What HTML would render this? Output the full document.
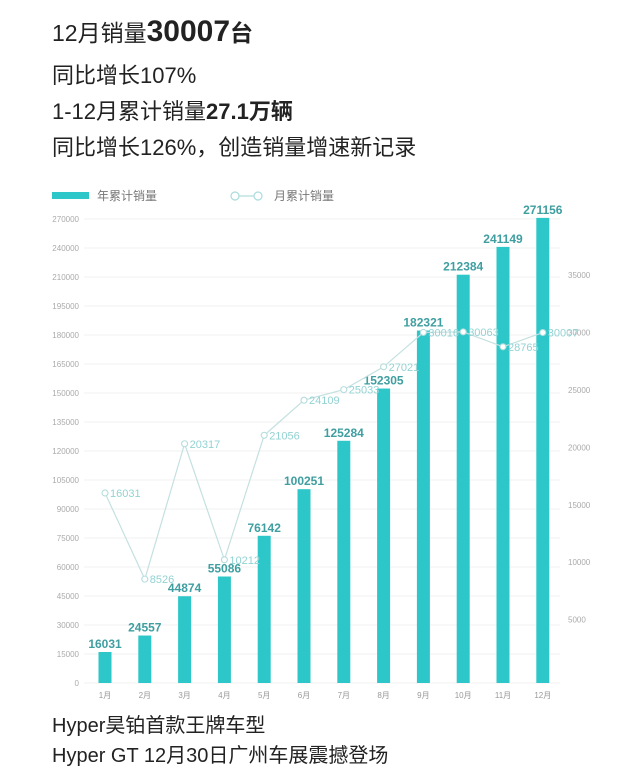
<!DOCTYPE html>
<html><head><meta charset="utf-8">
<style>
body{margin:0;width:640px;height:779px;background:#fff;font-family:"Liberation Sans","Noto Sans CJK SC",sans-serif;overflow:hidden;position:relative}
.t{position:absolute;left:52px;color:#222;white-space:nowrap}
</style></head><body>
<div class="t" style="top:14px;font-size:23px">12月销量<b style="font-size:30px">30007</b><b>台</b></div>
<div class="t" style="top:58px;font-size:22px">同比增长107%</div>
<div class="t" style="top:94px;font-size:22px">1-12月累计销量<b>27.1万辆</b></div>
<div class="t" style="top:130px;font-size:22px">同比增长126%，创造销量增速新记录</div>
<div class="t" style="top:709px;font-size:20px">Hyper昊铂首款王牌车型</div>
<div class="t" style="top:739px;font-size:20px">Hyper GT 12月30日广州车展震撼登场</div>
<svg id="c" width="640" height="779" style="position:absolute;left:0;top:0"></svg>
<script>
const months=["1月","2月","3月","4月","5月","6月","7月","8月","9月","10月","11月","12月"];
const cumulative=[16031,24557,44874,55086,76142,100251,125284,152305,182321,212384,241149,271156];
const monthly=[16031,8526,20317,10212,21056,24109,25033,27021,30016,30063,28765,30007];
const leftTicks=[0,15000,30000,45000,60000,75000,90000,105000,120000,135000,150000,165000,180000,195000,210000,240000,270000];
const rightTicks=[5000,10000,15000,20000,25000,30000,35000];
const svg=document.getElementById('c');const NS="http://www.w3.org/2000/svg";
function el(t,a,txt){const e=document.createElementNS(NS,t);for(const k in a)e.setAttribute(k,a[k]);if(txt!==undefined)e.textContent=txt;svg.appendChild(e);return e;}
// left axis: ticks evenly spaced by index (as in the source chart); values interpolated between ticks
const tickY=i=>683-i*29;
function yL(v){for(let i=0;i<leftTicks.length-1;i++){const a=leftTicks[i],b=leftTicks[i+1];if(v<=b||i===leftTicks.length-2){return tickY(i)-(v-a)/(b-a)*29;}}return tickY(0);}
const yR=v=>677-v*(57.4/5000);
const xC=i=>105+i*39.8;
// legend
let e=el('rect',{x:52,y:192,width:37,height:7,fill:'#2ec7c9'});

e=el('text',{x:97,y:200,'font-size':12,fill:'#777'},'年累计销量');

e=el('line',{x1:235,y1:196,x2:258,y2:196,stroke:'#b5dcdc','stroke-width':1.2});

[235,258].forEach(x=>{const c=el('circle',{cx:x,cy:196,r:4,fill:'#fff',stroke:'#a9dcdc','stroke-width':1.2});});
e=el('text',{x:274,y:200,'font-size':12,fill:'#777'},'月累计销量');

// left ticks + grid
leftTicks.forEach((v,i)=>{const g=el('line',{x1:84,y1:tickY(i),x2:560,y2:tickY(i),stroke:'#f0f0f0','stroke-width':1});

const t=el('text',{x:79,y:tickY(i)+3,'font-size':8,fill:'#aaa','text-anchor':'end'},v);
});
rightTicks.forEach(v=>{const t=el('text',{x:568,y:yR(v)+3,'font-size':8,fill:'#aaa'},v);
});
// bars
cumulative.forEach((v,i)=>{const b=el('rect',{x:xC(i)-6.5,y:yL(v),width:13,height:683-yL(v),fill:'#2ec7c9'});

const t=el('text',{x:xC(i),y:yL(v)-4,'font-size':12,fill:'#3f9ea0','text-anchor':'middle','font-weight':'bold'},v);

const m=el('text',{x:xC(i),y:698,'font-size':8,fill:'#999','text-anchor':'middle'},months[i]);
});
// line
const pl=el('polyline',{points:monthly.map((v,i)=>xC(i)+','+yR(v)).join(' '),fill:'none',stroke:'#c4e0e0','stroke-width':1.2});

monthly.forEach((v,i)=>{const c=el('circle',{cx:xC(i),cy:yR(v),r:3,fill:'#fff',stroke:'#b5dcdc','stroke-width':1.1});

const t=el('text',{x:xC(i)+5,y:yR(v)+4,'font-size':11,fill:'#93d2d3'},v);
});
</script>
</body></html>
